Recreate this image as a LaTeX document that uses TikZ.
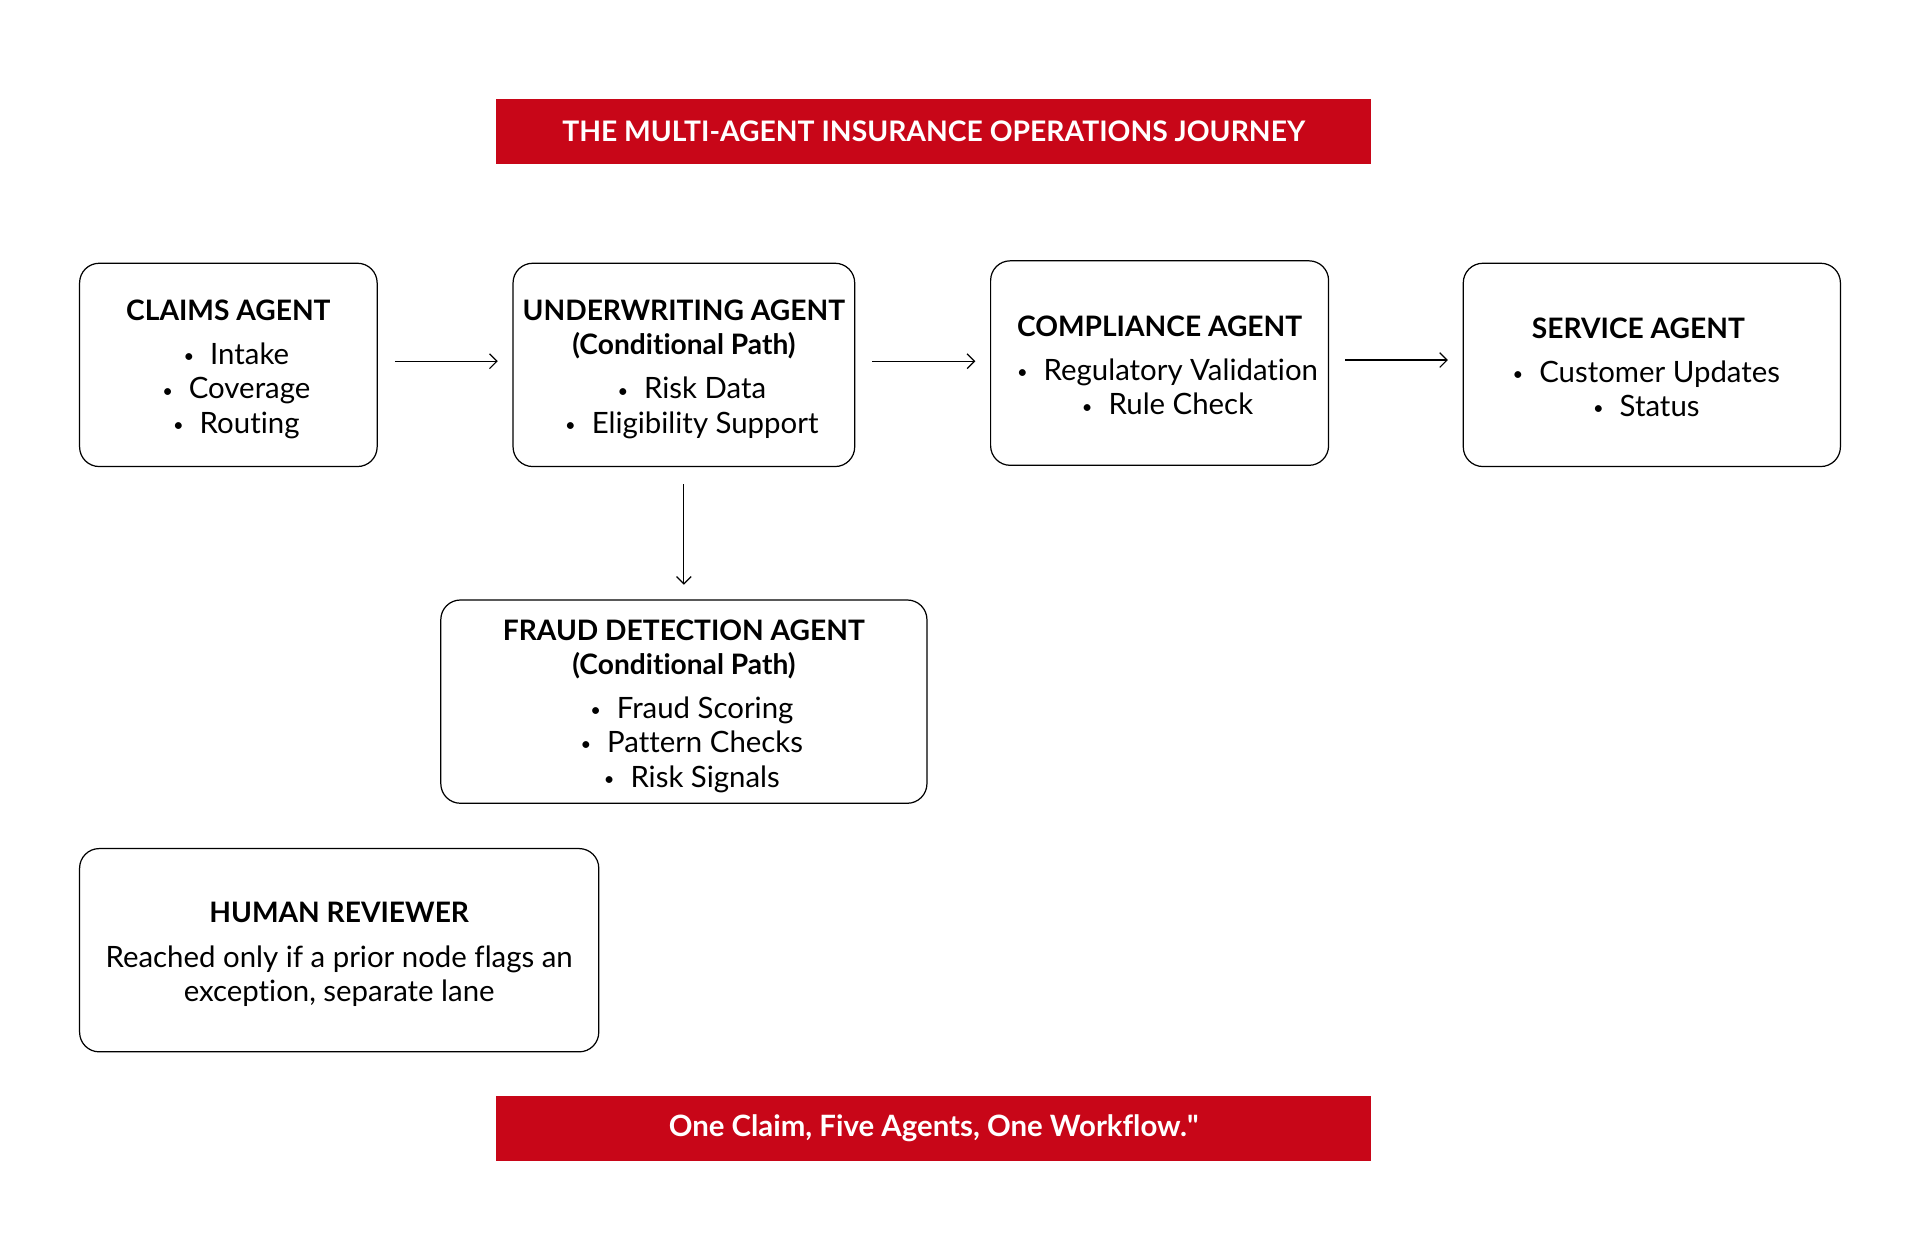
\documentclass[tikz,border=0pt]{standalone}
\usepackage{fontspec}
\setmainfont{Lato}[Ligatures={TeX,NoCommon}]
\newfontfamily\latoplain{Lato}[Ligatures={ResetAll}]
\usetikzlibrary{arrows.meta}
\definecolor{brandred}{RGB}{200,6,24}
\newcommand{\bul}{\hspace*{13pt}\raisebox{1.5pt}{\fontsize{15}{15}\selectfont •}\hspace{13pt}}
\tikzset{
  agent/.style={draw=black, line width=1pt, rounded corners=16pt, inner sep=0pt},
  agenttext/.style={inner sep=0pt, align=center, font=\fontsize{24}{28}\selectfont},
  flow/.style={line width=1pt, -{Straight Barb[length=6pt,width=12pt]}},
  banner/.style={fill=brandred, text=white, inner sep=0pt, minimum width=715pt,
    minimum height=53pt},
}
\newcommand{\hd}[1]{{\bfseries\fontsize{23}{28}\selectfont #1}}
\begin{document}
\begin{tikzpicture}[x=1pt,y=-1pt]
\useasboundingbox (0,0) rectangle (1568,1014.3);
\node[banner, font=\bfseries\fontsize{23.1}{26}\selectfont] (title) at (762.5,107.5) {THE MULTI-AGENT INSURANCE OPERATIONS JOURNEY};
\node[banner, font=\bfseries\fontsize{24}{26}\selectfont] (footer) at (762.5,921.5) {One Claim, Five Agents, One Workflow.{\latoplain\bfseries "}};

\node[agent, minimum width=243pt, minimum height=166pt] (claims) at (186.5,298) {};
\node[agent, minimum width=279pt, minimum height=166pt] (uw) at (558.5,298) {};
\node[agent, minimum width=276pt, minimum height=167pt] (comp) at (947,296.5) {};
\node[agent, minimum width=308pt, minimum height=166pt] (serv) at (1349,298) {};
\node[agent, minimum width=397pt, minimum height=166pt] (fraud) at (558.5,573) {};
\node[agent, minimum width=424pt, minimum height=166pt] (human) at (277,776) {};

\node[agenttext] (claims-t) at ([yshift=-3.5pt]claims.center)
  {\hd{CLAIMS AGENT}\\[8pt] \bul Intake\\ \bul Coverage\\ \bul Routing};
\node[agenttext] (uw-t) at ([yshift=-3.5pt]uw.center)
  {\hd{UNDERWRITING AGENT}\\ \hd{(Conditional Path)}\\[8pt] \bul Risk Data\\ \bul Eligibility Support};
\node[agenttext] (comp-t) at ([yshift=-2pt]comp.center)
  {\hd{COMPLIANCE AGENT}\\[8pt] \bul Regulatory Validation\\ \bul Rule Check};
\node[agenttext] (serv-t) at ([xshift=-11pt,yshift=-2pt]serv.center)
  {\hd{SERVICE AGENT}\\[8pt] \bul Customer Updates\\ \bul Status};
\node[agenttext] (fraud-t) at ([yshift=-3.5pt]fraud.center)
  {\hd{FRAUD DETECTION AGENT}\\ \hd{(Conditional Path)}\\[8pt] \bul Fraud Scoring\\ \bul Pattern Checks\\ \bul Risk Signals};
\node[agenttext] (human-t) at ([yshift=-3.5pt]human.center)
  {\hd{HUMAN REVIEWER}\\[8pt] Reached only if a prior node flags an\\ exception, separate lane};

\draw[flow] ([xshift=14pt,yshift=3pt]claims.east) -- ([xshift=-12pt,yshift=3pt]uw.west);
\draw[flow] ([xshift=14pt,yshift=3pt]uw.east) -- ([xshift=-12pt,yshift=1.5pt]comp.west);
\draw[flow] ([xshift=13pt,yshift=2.5pt]comp.east) -- ([xshift=-12pt,yshift=4pt]serv.west);
\draw[flow] ([yshift=-14pt]uw.south) -- ([yshift=12pt]fraud.north);
\end{tikzpicture}
\end{document}
